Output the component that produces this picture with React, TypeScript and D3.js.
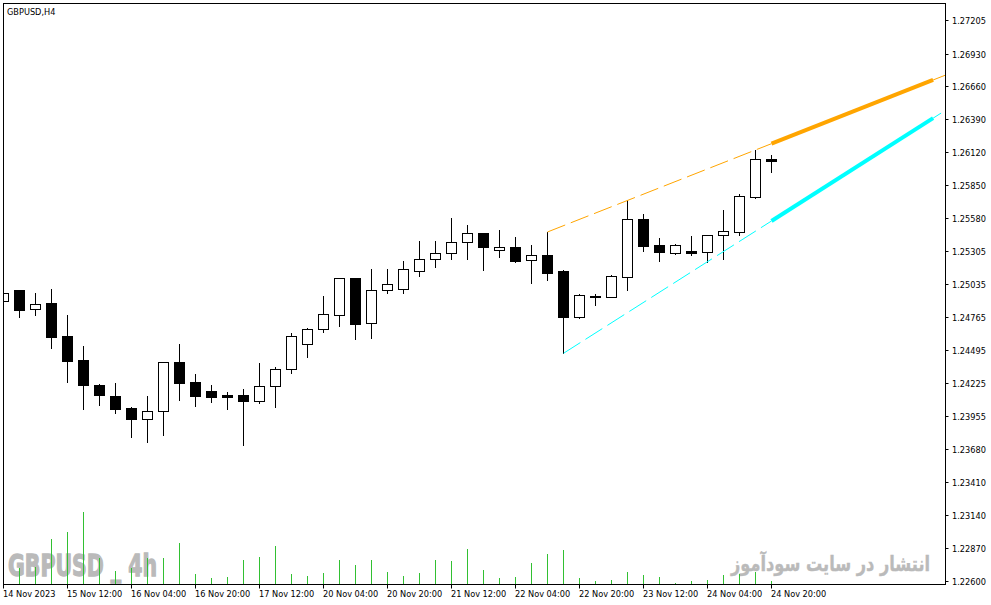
import * as d3 from 'd3'

// GBPUSD H4, 14 Nov 20:00 .. 24 Nov 20:00
const opens = [1.24901, 1.24989, 1.24830, 1.24884, 1.24611, 1.24414, 1.24209, 1.24119, 1.24020, 1.23932, 1.23993, 1.24398, 1.24231, 1.24160, 1.24129, 1.24127, 1.24080, 1.24198, 1.24338, 1.24543, 1.24666, 1.24781, 1.25085, 1.24715, 1.24986, 1.24999, 1.25142, 1.25241, 1.25290, 1.25380, 1.25454, 1.25315, 1.25339, 1.25233, 1.25276, 1.25145, 1.24770, 1.24937, 1.24934, 1.25098, 1.25571, 1.25358, 1.25295, 1.25309, 1.25303, 1.25438, 1.25467, 1.25755, 1.26062]
const highs = [1.25044, 1.24992, 1.24967, 1.24997, 1.24783, 1.24529, 1.24217, 1.24225, 1.24031, 1.24119, 1.24400, 1.24545, 1.24299, 1.24209, 1.24151, 1.24176, 1.24387, 1.24357, 1.24636, 1.24677, 1.24939, 1.25087, 1.25087, 1.25161, 1.25159, 1.25227, 1.25391, 1.25391, 1.25580, 1.25522, 1.25456, 1.25481, 1.25421, 1.25358, 1.25465, 1.25150, 1.24956, 1.24956, 1.25112, 1.25727, 1.25612, 1.25415, 1.25366, 1.25432, 1.25440, 1.25645, 1.25777, 1.26138, 1.26097]
const lows = [1.24819, 1.24770, 1.24786, 1.24515, 1.24236, 1.24014, 1.24047, 1.23981, 1.23784, 1.23741, 1.23801, 1.24086, 1.24039, 1.24072, 1.24014, 1.23716, 1.24064, 1.24031, 1.24310, 1.24441, 1.24646, 1.24696, 1.24589, 1.24597, 1.24962, 1.24967, 1.25106, 1.25180, 1.25246, 1.25246, 1.25153, 1.25262, 1.25219, 1.25049, 1.25071, 1.24469, 1.24761, 1.24868, 1.24932, 1.24989, 1.25311, 1.25229, 1.25284, 1.25276, 1.25221, 1.25246, 1.25440, 1.25741, 1.25960]
const closes = [1.24962, 1.24825, 1.24874, 1.24605, 1.24408, 1.24211, 1.24129, 1.24014, 1.23932, 1.23993, 1.24398, 1.24228, 1.24121, 1.24113, 1.24113, 1.24080, 1.24201, 1.24338, 1.24609, 1.24666, 1.24789, 1.25085, 1.24712, 1.24986, 1.25035, 1.25159, 1.25241, 1.25290, 1.25380, 1.25454, 1.25344, 1.25339, 1.25229, 1.25274, 1.25131, 1.24770, 1.24948, 1.24940, 1.25104, 1.25571, 1.25350, 1.25303, 1.25358, 1.25295, 1.25438, 1.25473, 1.25760, 1.26064, 1.26050]
const volumes = [6830, 4000, 4330, 11250, 13080, 18000, 6580, 3250, 4000, 6500, 6580, 10330, 2500, 1580, 1750, 6000, 6830, 9500, 2500, 2000, 2830, 6000, 4750, 6000, 3080, 2000, 2830, 6000, 5750, 8750, 3500, 1500, 1750, 5330, 7500, 8500, 1500, 830, 1000, 3000, 2250, 1750, 250, 830, 1000, 2250, 2500, 3000, 750]

const priceTicks = [1.27205, 1.26930, 1.26660, 1.26390, 1.26120, 1.25850, 1.25580, 1.25305, 1.25035, 1.24765, 1.24495, 1.24225, 1.23955, 1.23680, 1.23410, 1.23140, 1.22870, 1.22600]
const timeLabels = ['14 Nov 2023', '15 Nov 12:00', '16 Nov 04:00', '16 Nov 20:00', '17 Nov 12:00', '20 Nov 04:00', '20 Nov 20:00', '21 Nov 12:00', '22 Nov 04:00', '22 Nov 20:00', '23 Nov 12:00', '24 Nov 04:00', '24 Nov 20:00']

// channel anchors: bar index of the two touches
const upperAnchors = [34, 47]
const lowerAnchors = [35, 44]
const projStart = 48
const projEnd = 58.1

const L = 3.5, T = 3.5, R = 945.5, B = 584.5
const axisFont = 'DejaVu Sans, Tahoma, sans-serif'
const narrow = 'Liberation Sans Narrow, DejaVu Sans Condensed, Liberation Sans, sans-serif'

const x = d3.scaleLinear().domain([0, 48]).range([3.5, 771.5])
const y = d3.scaleLinear().domain([1.226, 1.27205]).range([581, 20])
const v = d3.scaleLinear().domain([0, 25000]).range([584, 484])

const snap = (n: number) => Math.round(n) + 0.5
const fmt = d3.format('.5f')

function lineThrough(a: [number, number], b: [number, number]) {
  return (t: number) => a[1] + (b[1] - a[1]) * (t - a[0]) / (b[0] - a[0])
}

const upper = lineThrough([upperAnchors[0], highs[upperAnchors[0]]], [upperAnchors[1], highs[upperAnchors[1]]])
const lower = lineThrough([lowerAnchors[0], lows[lowerAnchors[0]]], [lowerAnchors[1], lows[lowerAnchors[1]]])

function seg(f: (t: number) => number, t0: number, t1: number) {
  return d3.line<number>().x(t => x(t)).y(t => y(f(t)))([t0, t1]) ?? ''
}

export default function App() {
  return (
    <svg width={991} height={605} style={{ position: 'absolute', left: 0, top: 0, background: '#fff' }}>
      <defs>
        <clipPath id="plot">
          <rect x={4} y={4} width={941} height={580} />
        </clipPath>
      </defs>
      <rect x={0} y={0} width={991} height={605} fill="#fff" />

      {/* watermarks */}
      <g fill="#bababa" stroke="#bababa" fontWeight="bold">
        <text x={8} y={576} fontSize={31} fontFamily={narrow} strokeWidth={1.3}
          textLength={149} lengthAdjust="spacingAndGlyphs">GBPUSD _ 4h</text>
        <text x={731} y={571} fontSize={21} fontFamily="DejaVu Sans, Noto Sans, sans-serif" strokeWidth={0.4}
          textLength={199} lengthAdjust="spacingAndGlyphs">انتشار در سایت سودآموز</text>
      </g>

      <g clipPath="url(#plot)">
        {/* volumes */}
        <g stroke="#32c032" strokeWidth={1}>
          {volumes.map((vol, i) => (
            <line key={i} x1={x(i)} x2={x(i)} y1={584} y2={Math.round(v(vol))} />
          ))}
        </g>

        {/* candles */}
        {opens.map((o, i) => {
          const c = closes[i]
          const cx = x(i)
          const top = Math.round(y(Math.max(o, c)))
          const bot = Math.round(y(Math.min(o, c)))
          const bull = c >= o
          return (
            <g key={i}>
              <line x1={cx} x2={cx} y1={Math.round(y(highs[i]))} y2={Math.round(y(lows[i])) + 1} stroke="#000" />
              <rect x={cx - 5} y={top + 0.5} width={10} height={Math.max(1, bot - top)}
                fill={bull ? '#fff' : '#000'} stroke="#000" />
            </g>
          )
        })}

        {/* channel: history dashed, projection bold */}
        <path d={seg(upper, upperAnchors[0], projStart)} stroke="#ffa500" strokeWidth={1} strokeDasharray="19,6" fill="none" />
        <path d={seg(lower, lowerAnchors[0], projStart)} stroke="#00ffff" strokeWidth={1} strokeDasharray="20,6" fill="none" />
        <path d={seg(upper, projStart, projEnd)} stroke="#ffa500" strokeWidth={4} fill="none" />
        <path d={seg(lower, projStart, projEnd)} stroke="#00ffff" strokeWidth={4} fill="none" />
        <path d={seg(upper, projEnd, 58.85)} stroke="#ffa500" strokeWidth={1} fill="none" />
        <path d={seg(lower, projEnd, 58.6)} stroke="#00ffff" strokeWidth={1} fill="none" />
      </g>

      {/* frame */}
      <rect x={L} y={T} width={R - L} height={B - T} fill="none" stroke="#000" />

      {/* price axis */}
      <g fontFamily={axisFont} fontSize={8.2} fill="#000">
        {priceTicks.map(p => {
          const py = snap(y(p)) - 0.5
          return (
            <g key={p}>
              <line x1={R} x2={R + 3} y1={py + 0.5} y2={py + 0.5} stroke="#000" />
              <text x={952} y={py + 3.5}>{fmt(p)}</text>
            </g>
          )
        })}
      </g>

      {/* time axis */}
      <g fontFamily={axisFont} fontSize={8.2} fill="#000">
        {timeLabels.map((lab, k) => {
          const tx = x(k * 4)
          return (
            <g key={lab}>
              <line x1={tx} x2={tx} y1={B} y2={B + 4} stroke="#000" />
              <text x={tx - 0.5} y={597}>{lab}</text>
            </g>
          )
        })}
      </g>

      <text x={7} y={15} fontFamily={axisFont} fontSize={8.2} fill="#000">GBPUSD,H4</text>
    </svg>
  )
}
